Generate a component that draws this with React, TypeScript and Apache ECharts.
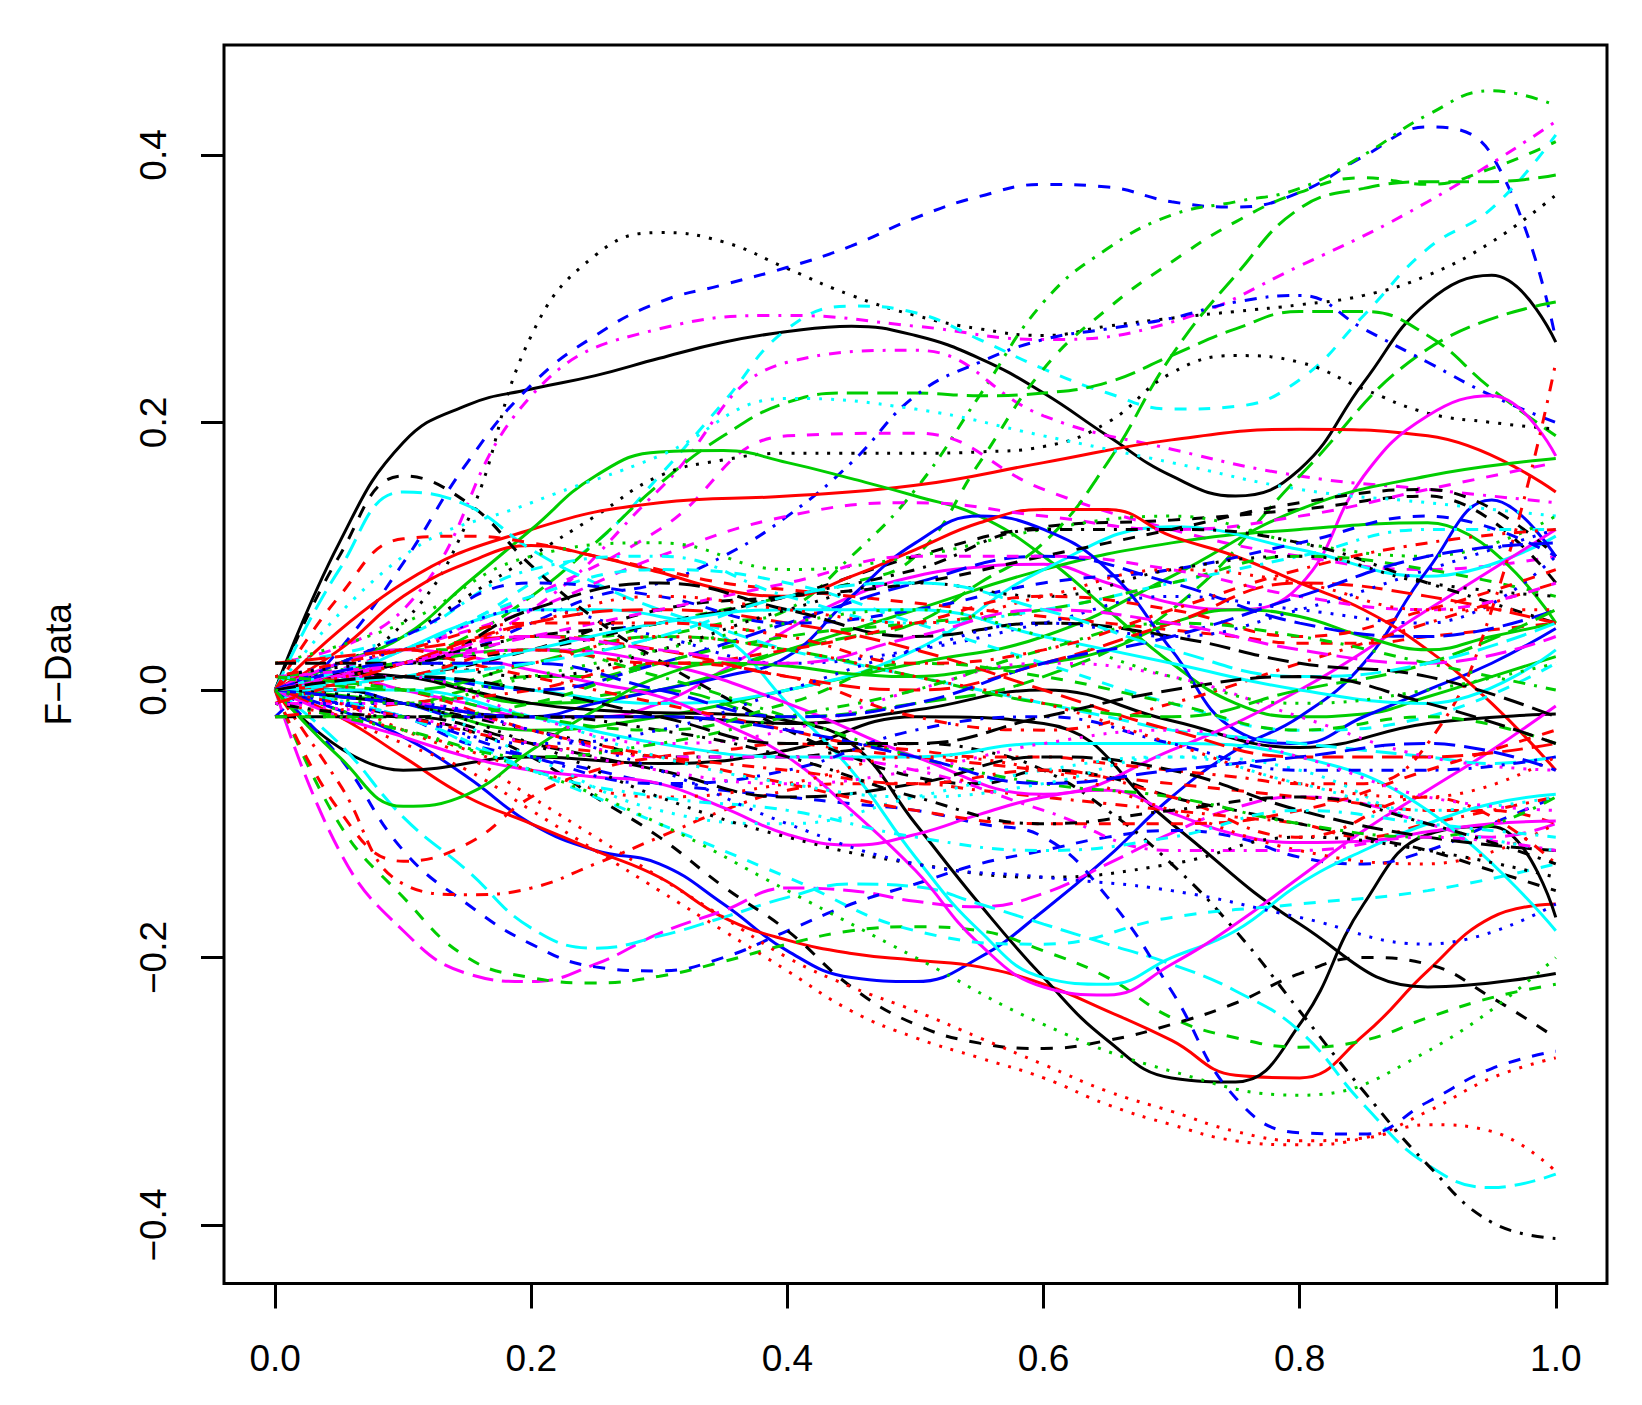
import React, { useEffect, useRef } from "react";
import * as echarts from "echarts";

// sampling grids (x positions of the read values)
const X11 = [0, 0.1, 0.2, 0.3, 0.4, 0.5, 0.6, 0.7, 0.8, 0.9, 1.0];
const X21 = [0, 0.05, 0.1, 0.15, 0.2, 0.25, 0.3, 0.35, 0.4, 0.45, 0.5, 0.55, 0.6, 0.65, 0.7, 0.75, 0.8, 0.85, 0.9, 0.95, 1.0];

const xTicks = [0, 0.2, 0.4, 0.6, 0.8, 1.0];
const yTicks = [-0.4, -0.2, 0, 0.2, 0.4];

// curve values
const c01 = [0.0, 0.11, 0.185, 0.213, 0.225, 0.235, 0.248, 0.26, 0.268, 0.272, 0.265, 0.248, 0.222, 0.19, 0.16, 0.145, 0.165, 0.23, 0.29, 0.31, 0.26];
const c02 = [0.01, 0.02, 0.05, 0.126, 0.265, 0.325, 0.342, 0.335, 0.315, 0.295, 0.28, 0.27, 0.265, 0.272, 0.278, 0.283, 0.288, 0.295, 0.31, 0.335, 0.37];
const c03 = [-0.02, 0.03, 0.095, 0.17, 0.228, 0.265, 0.29, 0.303, 0.316, 0.332, 0.353, 0.369, 0.378, 0.376, 0.365, 0.361, 0.372, 0.399, 0.421, 0.4, 0.262];
const c04 = [0.01, 0.01, 0.02, 0.02, 0.03, 0.03, 0.04, 0.05, 0.06, 0.1, 0.15, 0.22, 0.29, 0.33, 0.355, 0.365, 0.375, 0.4, 0.43, 0.448, 0.437];
const c05 = [0.02, 0.06, 0.22, 0.27, 0.28, 0.272, 0.262, 0.275, 0.317, 0.365, 0.425];
const c06 = [0.0, 0.01, 0.03, 0.05, 0.08, 0.11, 0.16, 0.215, 0.27, 0.287, 0.282, 0.262, 0.24, 0.222, 0.21, 0.212, 0.232, 0.28, 0.33, 0.36, 0.415];
const c07 = [0.0, 0.03, 0.07, 0.12, 0.19, 0.192, 0.15, 0.12, 0.1, 0.09, 0.1];
const c08 = [0.01, 0.02, 0.06, 0.15, 0.245, 0.254, 0.205, 0.18, 0.16, 0.15, 0.14];
const c09 = [0.0, 0.01, 0.02, 0.04, 0.07, 0.11, 0.154, 0.19, 0.215, 0.222, 0.222, 0.22, 0.222, 0.23, 0.25, 0.27, 0.283, 0.283, 0.265, 0.225, 0.19];
const c10 = [0.0, 0.0, -0.01, 0.0, 0.01, 0.01, 0.02, 0.02, 0.03, 0.04, 0.05, 0.08, 0.11, 0.17, 0.25, 0.31, 0.36, 0.375, 0.38, 0.38, 0.385];
const c10b = [0.0, 0.02, 0.03, 0.03, 0.04, 0.04, 0.05, 0.06, 0.07, 0.08, 0.1, 0.17, 0.24, 0.285, 0.32, 0.35, 0.372, 0.383, 0.378, 0.39, 0.41];
const c11 = [0.0, 0.01, -0.01, 0.0, -0.02, -0.01, 0.01, 0.06, 0.16, 0.255, 0.29];
const c12 = [0.0, 0.02, 0.04, 0.07, 0.1, 0.13, 0.16, 0.172, 0.177, 0.177, 0.177, 0.178, 0.182, 0.2, 0.237, 0.25, 0.245, 0.225, 0.207, 0.2, 0.195];
const c13 = [0.0, 0.01, 0.02, 0.03, 0.05, 0.07, 0.08, 0.1, 0.13, 0.17, 0.22, 0.245, 0.262, 0.27, 0.278, 0.29, 0.295, 0.27, 0.245, 0.22, 0.2];
const c14 = [0.0, 0.08, 0.12, 0.14, 0.145, 0.153, 0.17, 0.187, 0.195, 0.19, 0.148];
const c15 = [0.0, 0.02, 0.04, 0.08, 0.12, 0.16, 0.178, 0.179, 0.17, 0.158, 0.145, 0.13, 0.1, 0.06, 0.02, -0.01, -0.02, -0.018, -0.005, 0.01, 0.025];
const c16 = [0.0, 0.01, 0.0, -0.01, -0.02, -0.02, -0.01, 0.015, 0.045, 0.07, 0.085, 0.092, 0.094, 0.08, 0.065, 0.06, 0.078, 0.16, 0.205, 0.22, 0.175];
const c17 = [0.0, 0.02, 0.03, 0.05, 0.07, 0.1, 0.122, 0.127, 0.135, 0.145, 0.08];
const c18 = [0.0, 0.01, -0.01, 0.0, 0.03, 0.06, 0.09, 0.11, 0.12, 0.125, 0.05];
const c19 = [0.0, -0.01, -0.03, -0.02, 0.0, 0.02, 0.04, 0.085, 0.135, 0.16, 0.173];
const c20 = [0.0, 0.01, 0.0, -0.01, 0.0, 0.03, 0.09, 0.122, 0.105, 0.085, 0.115];
const c21 = [0.0, -0.015, -0.035, -0.065, -0.1, -0.12, -0.13, -0.16, -0.195, -0.215, -0.218, -0.2, -0.165, -0.125, -0.08, -0.045, -0.02, 0.02, 0.09, 0.142, 0.1];
const c22 = [0.0, 0.0, -0.01, -0.02, -0.02, -0.01, 0.0, 0.01, 0.025, 0.07, 0.11, 0.13, 0.12, 0.09, 0.03, -0.03, -0.04, -0.02, 0.0, 0.02, 0.046];
const c23 = [0.0, -0.02, -0.05, -0.08, -0.1, -0.12, -0.14, -0.17, -0.187, -0.197, -0.202, -0.207, -0.22, -0.24, -0.262, -0.288, -0.29, -0.258, -0.21, -0.17, -0.16];
const c24 = [0.0, 0.03, 0.07, 0.095, 0.108, 0.1, 0.088, 0.075, 0.07, 0.085, 0.105, 0.125, 0.135, 0.135, 0.115, 0.1, 0.08, 0.06, 0.03, -0.01, -0.06];
const c25 = [0.0, 0.012, 0.01, 0.0, -0.01, -0.015, -0.017, -0.018, -0.023, -0.04, -0.1, -0.16, -0.215, -0.262, -0.29, -0.293, -0.25, -0.16, -0.108, -0.102, -0.17];
const c26 = [0.0, -0.01, -0.02, -0.02, -0.025, -0.015, 0.0, -0.023, -0.043, -0.025, -0.018];
const c27 = [0.0, -0.06, -0.05, -0.055, -0.045, -0.02, -0.025, -0.1, -0.175, -0.222, -0.212];
const c28 = [0.0, -0.12, -0.18, -0.212, -0.218, -0.205, -0.182, -0.165, -0.148, -0.15, -0.158, -0.162, -0.152, -0.13, -0.107, -0.088, -0.08, -0.085, -0.1, -0.11, -0.1];
const c29 = [0.0, -0.1, -0.155, -0.2, -0.215, -0.219, -0.214, -0.203, -0.19, -0.18, -0.177, -0.18, -0.195, -0.215, -0.245, -0.26, -0.267, -0.262, -0.245, -0.23, -0.22];
const c30 = [0.0, -0.04, -0.095, -0.135, -0.178, -0.193, -0.184, -0.17, -0.155, -0.145, -0.147, -0.16, -0.175, -0.19, -0.205, -0.225, -0.255, -0.31, -0.355, -0.372, -0.362];
const c31 = [0.0, -0.05, -0.12, -0.16, -0.19, -0.207, -0.21, -0.2, -0.18, -0.16, -0.145, -0.13, -0.12, -0.11, -0.105, -0.11, -0.125, -0.13, -0.12, -0.1, -0.08];
const c32 = [0.0, -0.07, -0.145, -0.153, -0.148, -0.13, -0.11, -0.09, -0.075, -0.07, -0.07, -0.075, -0.08, -0.085, -0.09, -0.095, -0.1, -0.11, -0.1, -0.09, -0.08];
const c33 = [0.0, -0.09, -0.128, -0.115, -0.08, -0.06, -0.05, -0.045, -0.04, -0.045, -0.05, -0.055, -0.06, -0.065, -0.07, -0.075, -0.08, -0.085, -0.09, -0.09, -0.1];
const c35 = [0.0, -0.01, -0.02, -0.03, -0.05, -0.08, -0.11, -0.147, -0.18, -0.222, -0.25, -0.264, -0.268, -0.262, -0.25, -0.234, -0.212, -0.2, -0.205, -0.23, -0.26];
const c36 = [0.0, -0.01, -0.03, -0.05, -0.08, -0.11, -0.14, -0.17, -0.2, -0.222, -0.24, -0.26, -0.28, -0.3, -0.315, -0.33, -0.337, -0.335, -0.325, -0.33, -0.36];
const c37 = [0.0, -0.02, -0.04, -0.06, -0.09, -0.12, -0.15, -0.18, -0.21, -0.24, -0.26, -0.275, -0.29, -0.31, -0.325, -0.337, -0.34, -0.335, -0.315, -0.29, -0.275];
const c38 = [0.0, 0.0, -0.01, -0.02, -0.03, -0.04, -0.05, -0.05, -0.05, -0.045, -0.04, -0.045, -0.06, -0.09, -0.13, -0.18, -0.24, -0.3, -0.355, -0.398, -0.41];
const c39 = [0.0, -0.01, -0.02, -0.04, -0.05, -0.06, -0.07, -0.075, -0.08, -0.085, -0.09, -0.1, -0.11, -0.155, -0.225, -0.305, -0.331, -0.332, -0.308, -0.283, -0.27];
const c40 = [0.0, 0.01, 0.03, 0.05, 0.06, 0.06, 0.055, 0.04, -0.01, -0.06, -0.125, -0.18, -0.215, -0.22, -0.2, -0.18, -0.145, -0.12, -0.1, -0.085, -0.078];
const c41 = [0.0, 0.02, 0.03, 0.025, 0.015, 0.005, -0.005, -0.025, -0.05, -0.09, -0.135, -0.19, -0.222, -0.228, -0.205, -0.175, -0.14, -0.105, -0.075, -0.045, -0.012];
const c42 = [0.0, -0.02, -0.035, -0.05, -0.06, -0.065, -0.07, -0.088, -0.108, -0.116, -0.108, -0.093, -0.08, -0.075, -0.092, -0.108, -0.114, -0.113, -0.106, -0.1, -0.098];
const c43 = [0.0, 0.02, 0.03, 0.02, -0.01, -0.05, -0.078, -0.045, 0.0, 0.06, 0.12];
const c44 = [0.0, 0.1, 0.16, 0.14, 0.093, 0.053, 0.022, -0.005, -0.03, -0.05, -0.065, -0.07, -0.06, -0.065, -0.08, -0.09, -0.1, -0.11, -0.12, -0.135, -0.15];
const c45 = [0.0, 0.09, 0.148, 0.138, 0.105, 0.08, 0.06, 0.045, 0.03, 0.02, 0.01, 0.0, -0.01, -0.02, -0.03, -0.035, -0.04, -0.045, -0.05, -0.055, -0.05];
const c46 = [0.0, 0.1, 0.14, 0.175, 0.218, 0.21, 0.19, 0.17, 0.15, 0.14, 0.13];
const c47 = [0.0, 0.07, 0.113, 0.115, 0.11, 0.1, 0.09, 0.08, 0.075, 0.07, 0.065, 0.06, 0.055, 0.05, 0.045, 0.04, 0.035, 0.035, 0.04, 0.045, 0.05];
const c48 = [0.0, 0.03, 0.06, 0.1, 0.13, 0.14, 0.13, 0.12, 0.13, 0.15, 0.17];
const c49 = [0.0, -0.05, -0.087, -0.078, -0.045, -0.015, 0.01, 0.02, 0.018, 0.012, 0.01, 0.015, 0.02, 0.03, 0.05, 0.06, 0.055, 0.04, 0.03, 0.04, 0.05];
const c50 = [0.0, -0.02, -0.06, -0.1, -0.14, -0.18, -0.19, -0.17, -0.16, -0.15, -0.13];
const c51 = [0.0, -0.03, -0.06, -0.1, -0.15, -0.2, -0.25, -0.285, -0.303, -0.27, -0.2];
const c52 = [0.0, 0.01, 0.03, 0.02, 0.01, 0.0, -0.01, -0.02, -0.03, -0.04, -0.045, -0.05, -0.05, -0.055, -0.06, -0.065, -0.07, -0.07, -0.04, 0.06, 0.245];
const c53 = [0.0, 0.0, -0.02, -0.04, -0.05, -0.05, -0.04, -0.04, -0.05, -0.09, -0.18];
const f01 = [0.01, 0.03, 0.06, 0.04, 0.02, 0.03, 0.05, 0.07, 0.06, 0.05, 0.1];
const f02 = [-0.01, 0.02, 0.05, 0.06, 0.05, 0.03, 0.0, -0.03, -0.05, -0.05, -0.04];
const f03 = [0.02, 0.04, 0.09, 0.1, 0.07, 0.05, 0.06, 0.08, 0.1, 0.12, 0.12];
const f04 = [-0.02, -0.02, -0.04, -0.06, -0.08, -0.07, -0.05, -0.06, -0.09, -0.11, -0.12];
const f05 = [0.0, 0.01, 0.0, 0.02, 0.05, 0.08, 0.1, 0.08, 0.05, 0.04, 0.06];
const f06 = [-0.01, -0.03, -0.06, -0.08, -0.07, -0.05, -0.06, -0.09, -0.12, -0.13, -0.1];
const f07 = [0.02, 0.05, 0.1, 0.11, 0.09, 0.1, 0.12, 0.13, 0.11, 0.1, 0.13];
const f08 = [0.0, -0.01, -0.05, -0.09, -0.1, -0.08, -0.06, -0.05, -0.06, -0.1, -0.12];
const f09 = [0.01, 0.01, -0.02, -0.04, -0.03, 0.0, 0.02, 0.01, -0.02, -0.05, -0.06];
const f10 = [0.0, 0.02, 0.04, 0.05, 0.07, 0.09, 0.12, 0.12, 0.11, 0.08, 0.05];
const f11 = [-0.02, -0.01, 0.0, 0.02, 0.01, -0.02, -0.03, -0.01, 0.02, 0.05, 0.08];
const f12 = [0.0, -0.02, -0.05, -0.07, -0.06, -0.03, -0.02, -0.04, -0.06, -0.06, -0.05];
const f13 = [0.01, 0.02, 0.03, 0.01, -0.02, -0.05, -0.07, -0.08, -0.1, -0.11, -0.08];
const f14 = [0.0, 0.03, 0.07, 0.09, 0.08, 0.05, 0.02, -0.01, -0.03, -0.02, 0.02];
const f15 = [-0.01, -0.01, -0.03, -0.05, -0.05, -0.06, -0.09, -0.12, -0.12, -0.11, -0.12];
const f16 = [0.0, 0.01, 0.03, 0.06, 0.07, 0.08, 0.1, 0.12, 0.14, 0.15, 0.1];
const f17 = [0.01, 0.0, -0.03, -0.05, -0.07, -0.09, -0.1, -0.1, -0.09, -0.06, -0.03];
const f18 = [0.0, 0.04, 0.08, 0.07, 0.05, 0.06, 0.08, 0.09, 0.11, 0.13, 0.1];
const f19 = [-0.02, -0.02, -0.01, 0.02, 0.04, 0.05, 0.06, 0.08, 0.1, 0.09, 0.07];
const f20 = [0.0, -0.02, -0.06, -0.08, -0.09, -0.11, -0.12, -0.11, -0.09, -0.1, -0.11];
const f21 = [0.02, 0.03, 0.04, 0.03, 0.01, 0.0, 0.02, 0.05, 0.08, 0.07, 0.05];
const f22 = [0.0, -0.01, -0.04, -0.08, -0.11, -0.13, -0.14, -0.13, -0.11, -0.12, -0.14];
const f23 = [0.01, 0.02, 0.04, 0.06, 0.08, 0.1, 0.1, 0.09, 0.07, 0.06, 0.08];
const f24 = [-0.01, -0.01, -0.03, -0.06, -0.1, -0.13, -0.14, -0.15, -0.17, -0.19, -0.16];
const f25 = [0.0, 0.01, 0.03, 0.05, 0.06, 0.06, 0.04, 0.02, 0.0, -0.01, 0.03];
const f26 = [0.0, -0.02, -0.04, -0.05, -0.06, -0.07, -0.06, -0.08, -0.11, -0.08, -0.13];
const f27 = [0.01, 0.0, 0.02, 0.04, 0.03, 0.01, -0.01, -0.02, 0.0, 0.02, 0.06];
const f28 = [-0.01, 0.01, 0.02, 0.04, 0.03, 0.01, -0.01, -0.04, -0.07, -0.08, -0.05];
const f29 = [0.0, -0.01, -0.02, -0.02, -0.03, -0.05, -0.07, -0.06, -0.05, -0.04, -0.06];
const f30 = [0.02, 0.02, 0.06, 0.08, 0.06, 0.04, 0.05, 0.04, 0.02, 0.01, -0.02];
const g01 = [0.01, 0.02, 0.01, 0.03, 0.06, 0.08, 0.07, 0.09, 0.1, 0.08, 0.07];
const g02 = [0.0, 0.01, 0.03, 0.02, 0.03, 0.05, 0.07, 0.06, 0.04, 0.06, 0.09];
const g03 = [-0.01, -0.03, -0.05, -0.04, -0.02, 0.0, 0.03, 0.05, 0.04, 0.02, 0.0];
const g04 = [0.0, 0.02, 0.02, 0.0, -0.02, -0.01, 0.02, 0.04, 0.07, 0.1, 0.11];
const g05 = [0.01, 0.0, -0.02, -0.05, -0.07, -0.08, -0.07, -0.05, -0.07, -0.09, -0.08];
const g06 = [0.0, 0.02, 0.04, 0.03, 0.02, 0.04, 0.06, 0.05, 0.03, 0.02, 0.04];
const g07 = [-0.01, -0.02, -0.02, -0.03, -0.05, -0.08, -0.1, -0.09, -0.08, -0.1, -0.13];
const g08 = [0.0, 0.02, 0.05, 0.07, 0.06, 0.05, 0.07, 0.09, 0.08, 0.06, 0.06];
const g09 = [0.01, 0.0, -0.02, -0.03, -0.01, 0.02, 0.01, -0.01, -0.03, -0.02, -0.04];
const g10 = [0.0, -0.02, -0.04, -0.03, 0.0, 0.03, 0.05, 0.04, 0.06, 0.09, 0.12];
const g11 = [0.0, 0.01, 0.02, 0.04, 0.07, 0.08, 0.06, 0.03, 0.01, 0.02, 0.05];
const g12 = [-0.01, -0.02, -0.04, -0.06, -0.07, -0.06, -0.04, -0.03, -0.05, -0.08, -0.09];
const g13 = [0.0, 0.01, 0.0, -0.02, -0.04, -0.04, -0.02, 0.0, 0.01, -0.01, -0.04];
const g14 = [0.01, 0.03, 0.05, 0.05, 0.04, 0.02, 0.03, 0.06, 0.09, 0.11, 0.12];
const g15 = [0.0, -0.01, 0.01, 0.03, 0.05, 0.06, 0.04, 0.01, -0.01, 0.0, 0.02];

const curves = [
  c01, c02, c03, c04, c05, c06, c07, c08, c09, c10, c10b, c11, c12, c13, c14, c15, c16, c17, c18, c19,
  c20, c21, c22, c23, c24, c25, c26, c27, c28, c29, c30, c31, c32, c33, c35, c36, c37, c38, c39, c40,
  c41, c42, c43, c44, c45, c46, c47, c48, c49, c50, c51, c52, c53,
  f01, f02, f03, f04, f05, f06, f07, f08, f09, f10, f11, f12, f13, f14, f15, f16, f17, f18, f19, f20,
  f21, f22, f23, f24, f25, f26, f27, f28, f29, f30,
  g01, g02, g03, g04, g05, g06, g07, g08, g09, g10, g11, g12, g13, g14, g15,
];
const curveColor = [
  "k", "k", "b", "g", "m", "c", "m", "m", "g", "g", "g", "g", "k", "b", "r", "g", "m", "k", "g", "g",
  "c", "b", "b", "r", "r", "k", "k", "k", "m", "g", "c", "b", "r", "r", "k", "r", "r", "k", "b", "c",
  "m", "m", "m", "k", "c", "c", "r", "m", "g", "c", "g", "r", "c",
  "b", "r", "c", "k", "b", "r", "g", "c", "m", "k", "r", "b", "g", "c", "m", "k", "r", "b", "g", "c",
  "r", "k", "m", "b", "c", "r", "g", "r", "b", "k",
  "k", "r", "g", "b", "c", "m", "k", "r", "g", "b", "c", "m", "k", "r", "g",
];
const curveLty = [
  1, 3, 2, 4, 4, 2, 2, 4, 5, 5, 2, 5, 3, 4, 1, 1, 1, 2, 1, 1,
  1, 1, 1, 1, 1, 1, 1, 1, 5, 2, 5, 2, 4, 2, 2, 3, 3, 4, 2, 1,
  1, 1, 1, 2, 5, 3, 2, 2, 1, 2, 3, 4, 1,
  3, 5, 4, 5, 5, 3, 3, 3, 3, 4, 4, 4, 4, 2, 4, 2, 2, 2, 2, 4,
  5, 3, 2, 3, 1, 4, 5, 3, 5, 5,
  3, 2, 4, 5, 3, 5, 4, 3, 2, 3, 5, 3, 5, 4, 3,
];

const PALETTE: Record<string, string> = {
  k: "#000000", r: "#FF0000", g: "#00CD00", b: "#0000FF", c: "#00FFFF", m: "#FF00FF",
};
const DASH: Record<number, any> = {
  1: "solid", 2: [12, 12], 3: [3, 9], 4: [3, 9, 12, 9], 5: [21, 9],
};

const FONT = "'Liberation Sans', Arial, Helvetica, sans-serif";
const fmt = (v: number) => (v < -1e-9 ? "\u2212" : "") + Math.abs(v).toFixed(1);

export default function App() {
  const ref = useRef<HTMLDivElement>(null);
  useEffect(() => {
    if (!ref.current) return;
    const chart = echarts.init(ref.current, null, { renderer: "svg" });
    const series = curves.map((vals, i) => {
      const xs = vals.length === 21 ? X21 : X11;
      return {
        type: "line",
        data: vals.map((v, j) => [xs[j], v]),
        showSymbol: false,
        symbol: "none",
        smooth: 0.45,
        silent: true,
        clip: true,
        lineStyle: { color: PALETTE[curveColor[i]], width: 3, type: DASH[curveLty[i]], cap: "butt" },
      };
    });
    chart.setOption({
      animation: false,
      backgroundColor: "#ffffff",
      grid: {
        left: 224, top: 45, width: 1383, height: 1238.5,
        show: true, borderColor: "#000", borderWidth: 3, backgroundColor: "transparent",
        containLabel: false, outerBoundsMode: "none",
      },
      xAxis: {
        type: "value", min: -0.04, max: 1.04,
        axisLine: { show: false, onZero: false },
        splitLine: { show: false },
        axisTick: { show: true, customValues: xTicks, length: 25, inside: false, lineStyle: { color: "#000", width: 3 } },
        axisLabel: { customValues: xTicks, formatter: fmt, fontSize: 37, fontFamily: FONT, color: "#000", margin: 56 },
      },
      yAxis: {
        type: "value", min: -0.4437, max: 0.4822,
        axisLine: { show: false, onZero: false },
        splitLine: { show: false },
        axisTick: { show: true, customValues: yTicks, length: 23, inside: false, lineStyle: { color: "#000", width: 3 } },
        axisLabel: { customValues: yTicks, formatter: fmt, fontSize: 37, fontFamily: FONT, color: "#000", rotate: 90, margin: 52 },
        name: "F\u2212Data", nameLocation: "middle", nameRotate: 90, nameGap: 147,
        nameTextStyle: { fontSize: 37, fontFamily: FONT, color: "#000" },
      },
      series,
    });
    return () => chart.dispose();
  }, []);
  return (
    <div style={{ position: "absolute", left: 0, top: 0, width: 1642, height: 1405, background: "#fff" }}>
      <div ref={ref} style={{ width: 1642, height: 1405 }} />
    </div>
  );
}
